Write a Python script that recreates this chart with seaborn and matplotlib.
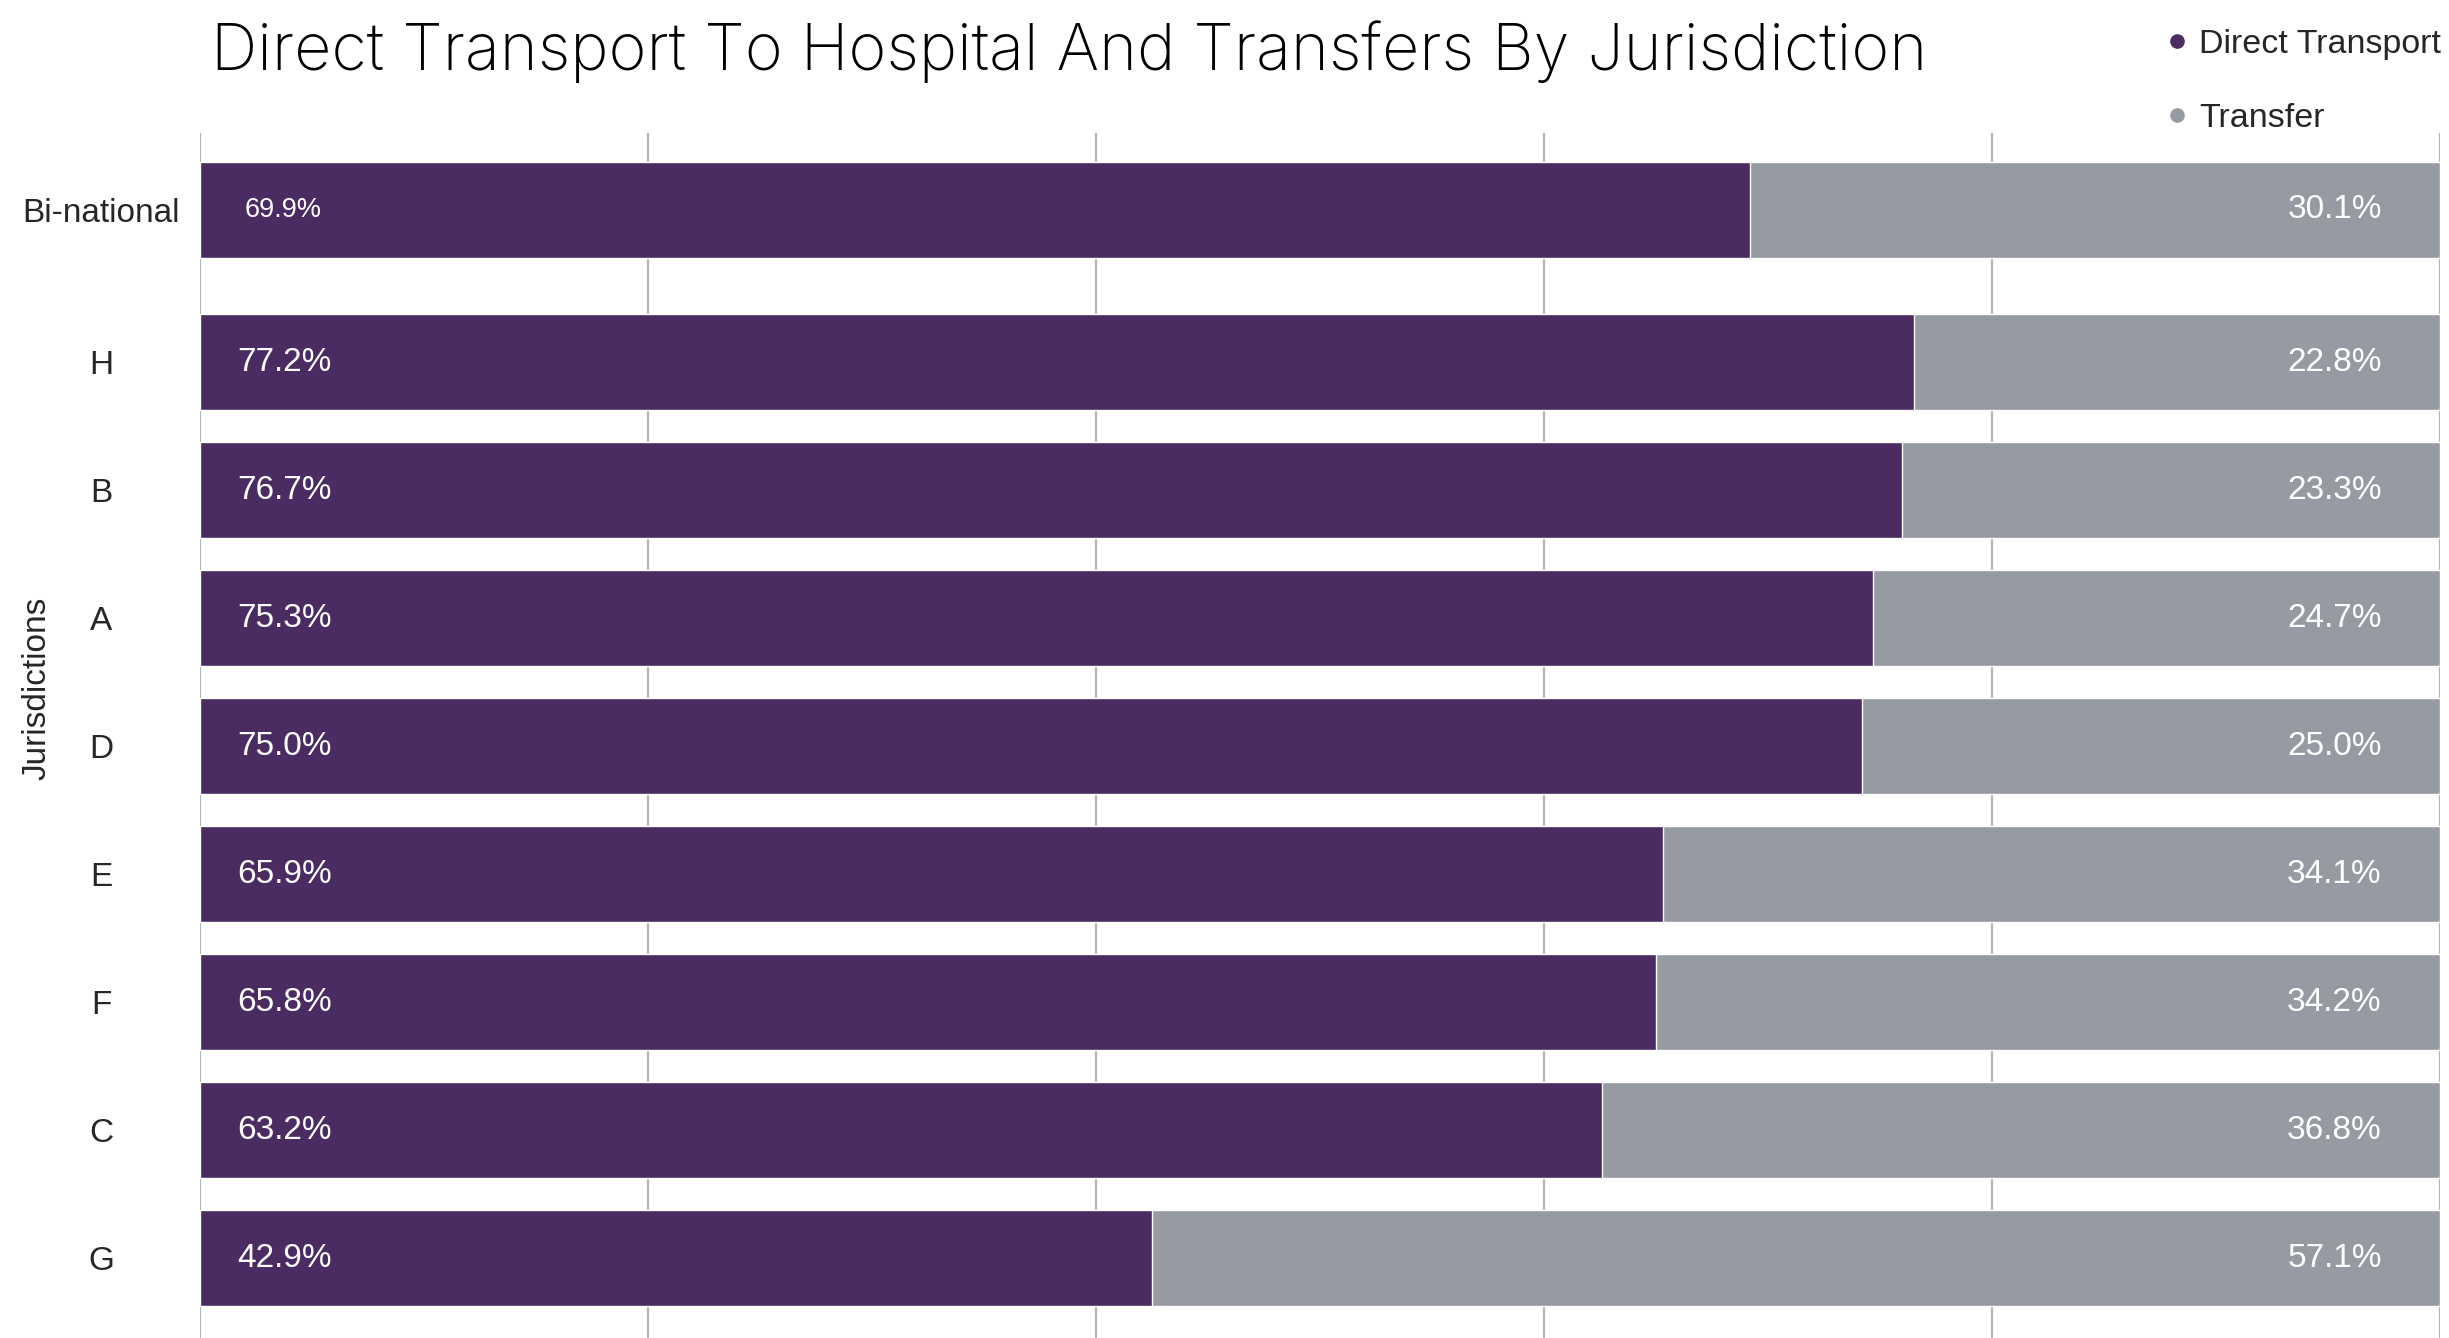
import matplotlib
matplotlib.use("Agg")
import matplotlib.pyplot as plt
from matplotlib.lines import Line2D
import seaborn as sns
import pandas as pd

# data
jurisdictions = ["Bi-national", "H", "B", "A", "D", "E", "F", "C", "G"]
# percentages printed on the bars
direct_pct = [69.9, 77.2, 76.7, 75.3, 75.0, 65.9, 65.8, 63.2, 42.9]
transfer_pct = [30.1, 22.8, 23.3, 24.7, 25.0, 34.1, 34.2, 36.8, 57.1]
# purple bar lengths as drawn (they run slightly short of the printed values)
direct_bar = [69.2, 76.5, 76.0, 74.7, 74.2, 65.3, 65.0, 62.6, 42.5]
series_names = ["Direct Transport", "Transfer"]

PURPLE = "#4a2b62"
GREY = "#969ba3"
GAP = 0.19  # extra space that sets the Bi-national row apart

df = pd.DataFrame({
    "jurisdiction": jurisdictions,
    "direct": direct_pct,
    "transfer": transfer_pct,
    "direct_bar": direct_bar,
})
df["total"] = df["direct"] + df["transfer"]

sns.set_style("white")
plt.rcParams["font.family"] = ["Liberation Sans", "DejaVu Sans"]

fig = plt.figure(figsize=(24.49, 13.38), dpi=100)
ax = fig.add_axes([200 / 2449, 0.0, 2240 / 2449, 1 - 133 / 1338])

# stacked look: full-length grey bar underneath, purple share on top
sns.barplot(data=df, y="jurisdiction", x="total", order=jurisdictions,
            color=GREY, width=0.75, saturation=1, ax=ax)
sns.barplot(data=df, y="jurisdiction", x="direct_bar", order=jurisdictions,
            color=PURPLE, width=0.75, saturation=1, ax=ax)

# lift the Bi-national row a little away from the jurisdictions
for cont in ax.containers:
    p = cont.patches[0]
    p.set_y(p.get_y() - GAP)
row_y = [i - GAP if i == 0 else i for i in range(len(jurisdictions))]

ax.set_xlim(0, 100)
ax.set_ylim(8.625, -0.79)
ax.set_xticks([0, 20, 40, 60, 80, 100])
ax.set_xticklabels([])
ax.set_yticks(row_y)
ax.set_yticklabels(jurisdictions)
ax.grid(axis="x", color="#b3b3b3", linewidth=1.5)
ax.grid(axis="y", visible=False)
ax.set_axisbelow(True)
for s in ax.spines.values():
    s.set_visible(False)
ax.tick_params(axis="both", length=0)
ax.tick_params(axis="y", labelsize=24, pad=71)
for lab in ax.get_yticklabels():
    lab.set_horizontalalignment("center")
ax.set_xlabel("")
ax.set_ylabel("")

# value labels
for i, name in enumerate(jurisdictions):
    d = df.loc[i, "direct"]
    t = df.loc[i, "transfer"]
    small = name == "Bi-national"
    ax.text(2.0 if small else 1.65, row_y[i], f"{d:.1f}%", color="white",
            fontsize=19.5 if small else 24, va="center", ha="left")
    ax.text(97.4, row_y[i], f"{t:.1f}%", color="white", fontsize=24,
            va="center", ha="right")

fig.text(37 / 2449, 1 - 688 / 1338, "Jurisdictions", rotation=90,
         fontsize=24, ha="center", va="center")

fig.text(211 / 2449, 1 - 52 / 1338,
         "Direct Transport To Hospital And Transfers By Jurisdiction",
         fontsize=46.5, fontweight="light", family=["Inter", "DejaVu Sans"],
         color="black", ha="left", va="center")

handles = [Line2D([0], [0], marker="o", linestyle="", markersize=9.5,
                  markerfacecolor=c, markeredgecolor=c)
           for c in (PURPLE, GREY)]
fig.legend(handles, series_names, loc="upper left",
           bbox_to_anchor=(2167 / 2449, 1 - 29 / 1338), frameon=False,
           fontsize=24.5, handlelength=0.6, handletextpad=0.35,
           labelspacing=1.25, borderaxespad=0, borderpad=0)

fig.savefig("out.png", dpi=100)
plt.close(fig)
